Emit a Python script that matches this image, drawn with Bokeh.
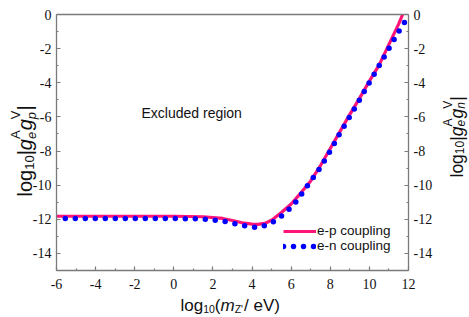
import math
from bokeh.plotting import figure
from bokeh.models import Range1d, LinearAxis, FixedTicker, Label, Legend, LegendItem
from bokeh.embed import file_html
from bokeh.resources import INLINE

# ---------------- data ----------------
ep_x = [-6.0, -4.0, -2.0, 0.0, 1.5, 2.5, 3.0, 3.5, 4.0, 4.3, 4.7, 5.0, 5.5, 6.0,
        6.5, 7.0, 7.5, 8.0, 8.5, 9.0, 9.5, 10.0, 10.5, 11.0, 11.5, 11.7]
ep_y = [-11.82, -11.82, -11.82, -11.82, -11.85, -11.95, -12.07, -12.2, -12.28, -12.3,
        -12.22, -12.05, -11.6, -11.1, -10.45, -9.75, -8.85, -7.85, -6.85, -5.85,
        -4.9, -3.9, -2.95, -1.75, -0.55, 0.0]

en_x = [-5.55, -4.0, -2.0, 0.0, 1.5, 2.5, 3.0, 3.5, 3.8, 4.3, 4.8, 5.2, 5.6, 6.0,
        6.3, 6.6, 6.9, 7.2, 7.5, 8.0, 8.5, 9.0, 9.5, 10.0, 10.5, 11.0, 11.5, 11.8]
en_y = [-11.95, -11.95, -11.95, -11.95, -11.98, -12.1, -12.22, -12.36, -12.42, -12.48,
        -12.32, -12.07, -11.72, -11.3, -10.9, -10.41, -9.92, -9.45, -8.95, -8.0,
        -6.95, -5.98, -5.0, -3.98, -3.0, -1.99, -1.0, -0.45]

x_ticks = [-6, -4, -2, 0, 2, 4, 6, 8, 10, 12]
x_tick_labels = ["-6", "-4", "-2", "0", "2", "4", "6", "8", "10", "12"]
x_minor = [-5, -3, -1, 1, 3, 5, 7, 9, 11]
y_ticks = [-14, -12, -10, -8, -6, -4, -2, 0]
y_tick_labels = ["-14", "-12", "-10", "-8", "-6", "-4", "-2", "0"]
y_minor = [-15, -13, -11, -9, -7, -5, -3, -1]
series_names = ["e-p coupling", "e-n coupling"]
region_text = "Excluded region"

PINK = "#ff1477"
BLUE = "#0000ff"
AX = "#7a7a7a"
TXT = "#111111"

# axis extent (data) and where the box sits on the canvas (px)
XA, XB, YA, YB = -6, 12, -15, 0
W, H = 469, 317
FL, FR, FT, FB = 56, 408, 14, 270
sx = (XB - XA) / (FR - FL)
sy = (YB - YA) / (FB - FT)
x_range = Range1d(XA - FL * sx, XB + (W - FR) * sx)
y_range = Range1d(YA - (H - FB) * sy, YB + FT * sy)

p = figure(width=W, height=H, x_range=x_range, y_range=y_range,
           output_backend="svg", toolbar_location=None,
           x_axis_location=None, y_axis_location=None,
           min_border=0, min_border_left=0, min_border_right=0,
           min_border_top=0, min_border_bottom=0)
p.grid.visible = False
p.outline_line_color = None
p.background_fill_color = "white"
p.border_fill_color = "white"

r_ep = p.line(ep_x, ep_y, line_color=PINK, line_width=3.2)
r_en = p.line(en_x, en_y, line_color=BLUE, line_width=5.5, line_dash="0 10", line_cap="round")

def style_axis(ax, ticks, minor, labels):
    ax.ticker = FixedTicker(ticks=ticks, minor_ticks=minor)
    ax.major_label_overrides = {t: l for t, l in zip(ticks, labels)}
    ax.major_tick_in = 4
    ax.major_tick_out = 0
    ax.minor_tick_in = 2
    ax.minor_tick_out = 0
    ax.axis_line_color = AX
    ax.axis_line_width = 1.3
    ax.major_tick_line_color = AX
    ax.minor_tick_line_color = AX
    ax.major_tick_line_width = 1.2
    ax.minor_tick_line_width = 1.2
    ax.major_label_text_font = "Liberation Serif"
    ax.major_label_text_font_size = "14px"
    ax.major_label_text_color = TXT
    ax.major_label_standoff = 5

bottom = LinearAxis(fixed_location=YA, bounds=(XA, XB))
left = LinearAxis(fixed_location=XA, bounds=(YA, YB))
right = LinearAxis(fixed_location=XB, bounds=(YA, YB))
top = LinearAxis(fixed_location=YB, bounds=(XA, XB))
style_axis(bottom, x_ticks, x_minor, x_tick_labels)
style_axis(left, y_ticks, y_minor, y_tick_labels)
style_axis(right, y_ticks, y_minor, y_tick_labels)
bottom.major_label_standoff = 8
top.ticker = FixedTicker(ticks=[], minor_ticks=[])
top.major_label_text_font_size = "0px"
top.axis_line_color = AX
top.axis_line_width = 1.3
top.major_tick_line_color = None
top.minor_tick_line_color = None
p.add_layout(bottom, "below")
p.add_layout(left, "left")
p.add_layout(right, "right")
p.add_layout(top, "above")

legend = Legend(items=[LegendItem(label=series_names[0], renderers=[r_ep]),
                       LegendItem(label=series_names[1], renderers=[r_en])],
                location=(283, 64), padding=0, margin=0, spacing=0,
                glyph_width=33, glyph_height=12, label_height=12, label_standoff=1,
                border_line_color=None, background_fill_alpha=0,
                label_text_font="Liberation Sans", label_text_font_size="13.5px",
                label_text_line_height=1.05, label_text_color=TXT)
p.add_layout(legend)

# canvas-pixel -> data helpers for text placement
def dx(px):
    return x_range.start + px * sx

def dy(py):
    return y_range.end - py * sy

WID = {'l': 222, 'o': 556, 'g': 556, '1': 556, '0': 556, '|': 260, 'e': 556, 'p': 556,
       'n': 556, 'A': 667, 'V': 667, '(': 333, ')': 333, 'm': 833, 'Z': 611, "'": 191,
       ' ': 278, '/': 278}

def tw(s, size):
    return sum(WID.get(c, 556) for c in s) * size / 1000.0

def add_text(px, py, text, size, italic=False, angle=0.0):
    p.add_layout(Label(x=dx(px), y=dy(py), text=text, angle=angle,
                       text_font="Liberation Sans", text_font_size=f"{size}px",
                       text_font_style="italic" if italic else "normal",
                       text_color=TXT, text_align="left", text_baseline="alphabetic"))

# "Excluded region"
add_text(141, 112.5, region_text, 14)

# x label: log10(m_Z' / eV)
def x_label(x, base, F, S):
    add_text(x, base, "log", F); x += tw("log", F)
    add_text(x, base + 3.5, "10", S); x += tw("10", S)
    add_text(x, base, "(", F); x += tw("(", F)
    add_text(x, base, "m", F, italic=True); x += tw("m", F)
    add_text(x, base + 3.5, "Z'", S); x += tw("Z'", S) + 1
    add_text(x, base, " / eV)", F)

x_label(180, 305, 17, 10.5)

# vertical labels: log10|g_e^A g_N^V|
def y_label(bx, start, F, S, nuc, sub_sh, sup_sh):
    a = math.pi / 2
    y = start
    add_text(bx, y, "log", F, angle=a); y -= tw("log", F)
    add_text(bx + sub_sh * 0.8, y, "10", S, angle=a); y -= tw("10", S)
    add_text(bx, y, "|", F, angle=a); y -= tw("|", F)
    add_text(bx, y, "g", F, italic=True, angle=a); y -= tw("g", F)
    add_text(bx + sub_sh, y, "e", S, italic=True, angle=a)
    add_text(bx - sup_sh, y, "A", S, angle=a); y -= tw("A", S)
    add_text(bx, y, "g", F, italic=True, angle=a); y -= tw("g", F)
    add_text(bx + sub_sh, y, nuc, S, italic=True, angle=a)
    add_text(bx - sup_sh, y, "V", S, angle=a); y -= tw("V", S)
    add_text(bx, y, "|", F, angle=a)

y_label(24.5, 196, 20, 13, "p", 6, 10)
y_label(456, 177, 17.5, 12, "n", 4, 8.5)

open("out.html", "w").write(file_html(p, INLINE))
